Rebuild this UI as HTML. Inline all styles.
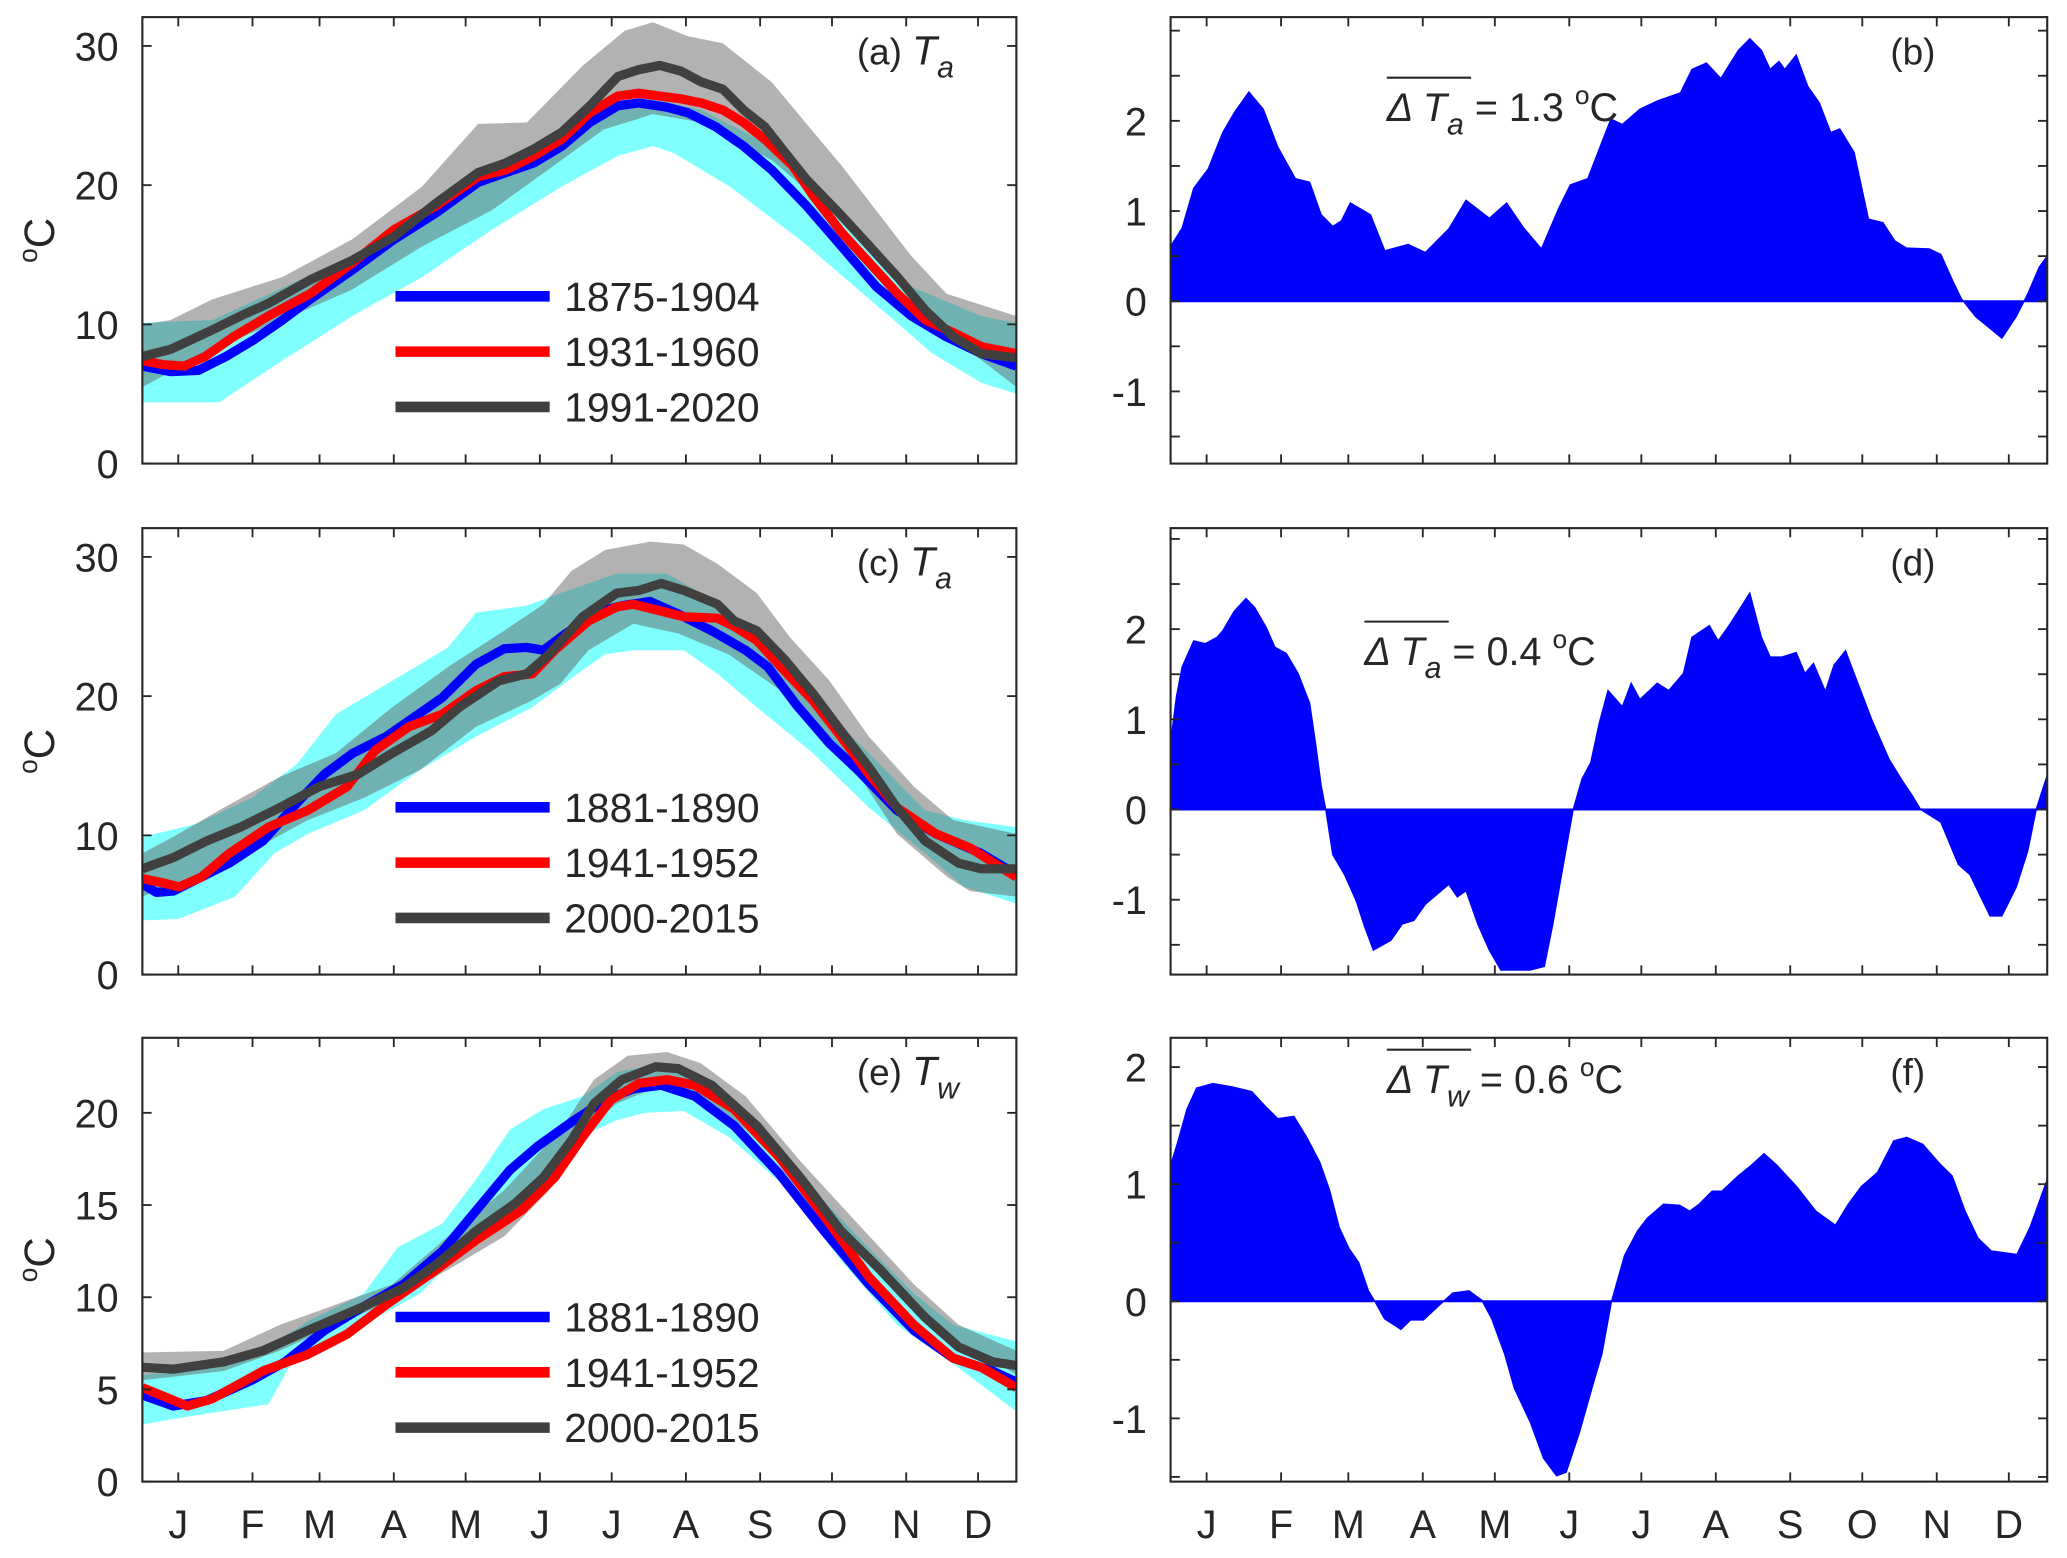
<!DOCTYPE html>
<html><head><meta charset="utf-8"><style>
html,body{margin:0;padding:0;background:#fff;}
svg{display:block;}
text{font-family:"Liberation Sans",Arial,sans-serif;fill:#262626;}
</style></head><body>
<svg id="fig" xmlns="http://www.w3.org/2000/svg" width="2067" height="1558" viewBox="0 0 1568 1183" preserveAspectRatio="none"></svg>
<script>
// ---------- shared categories ----------
const monthLabels=['J','F','M','A','M','J','J','A','S','O','N','D'];
const monthDays=[15,46,74,105,135,166,196,227,258,288,319,349];

// ---------- panel (a) ----------
const aLegend=['1875-1904','1931-1960','1991-2020'];
const aBlueDays=[0,11.7,23.4,35,46.7,58.4,70.1,87.6,105.1,122.6,140.2,151.8,163.5,175.2,186.9,198.6,207.3,219,227.8,239.4,251.1,262.8,277.4,292,306.6,321.2,335.8,350.4,365];
const aBlueVals=[7.0,6.6,6.7,7.7,8.9,10.3,11.8,13.9,16.1,18.0,20.2,20.9,21.6,22.8,24.5,25.7,25.9,25.6,25.2,24.2,22.8,21.1,18.5,15.6,12.7,10.6,9.1,7.9,7.0];
const aRedDays=[0,8.8,17.5,26.3,38,52.6,70.1,87.6,105.1,122.6,140.2,151.8,163.5,175.2,186.9,198.6,207.3,216.1,224.8,233.6,242.4,251.1,259.9,271.6,280.3,292,303.7,315.4,327,338.7,350.4,365];
const aRedVals=[7.4,7.1,7.0,7.7,9.1,10.6,12.2,14.4,16.8,18.5,20.6,21.1,22.1,23.3,25.2,26.4,26.6,26.4,26.2,25.9,25.4,24.5,23.3,21.4,19.2,16.6,14.4,12.2,10.3,9.4,8.4,7.9];
const aGrayDays=[0,11.7,29.2,40.9,52.6,70.1,87.6,105.1,122.6,140.2,151.8,163.5,175.2,186.9,198.6,207.3,216.1,224.8,233.6,242.4,251.1,259.9,268.6,277.4,292,303.7,315.4,327,338.7,350.4,365];
const aGrayVals=[7.7,8.2,9.6,10.6,11.5,13.2,14.6,16.3,18.7,20.9,21.6,22.6,23.8,25.7,27.8,28.3,28.6,28.2,27.4,26.9,25.4,24.2,22.3,20.4,17.8,15.6,13.4,11.0,9.1,7.9,7.6];
const aCyanLoDays=[0,32.1,58.4,87.6,116.8,146,175.2,198.6,213.2,221.9,245.3,274.5,303.7,330,350.4,365];
const aCyanLoVals=[4.4,4.4,7.4,10.6,13.4,16.8,19.9,22.1,22.8,22.3,19.9,16.1,11.8,7.9,5.8,5.0];
const aCyanHiDays=[0,29.2,87.6,146,189.8,213.2,233.6,262.8,292,321.2,350.4,365];
const aCyanHiVals=[10.1,10.3,14.9,20.6,25.4,26.2,25.4,22.8,17.8,12.7,10.6,10.1];
const aGrayHiDays=[0,11.7,29.2,58.4,87.6,116.8,140.2,160.6,184,201.5,213.2,227.8,242.4,262.8,292,321.2,335.8,365];
const aGrayHiVals=[10.0,10.3,11.8,13.4,16.1,19.9,24.4,24.5,28.6,31.1,31.7,30.7,30.2,27.4,21.4,14.9,12.2,10.6];
const aGrayLoDays=[0,29.2,58.4,87.6,116.8,146,169.4,192.7,213.2,233.6,262.8,292,321.2,344.6,365];
const aGrayLoVals=[5.5,8.2,10.3,12.5,15.6,18.2,21.1,24.0,25.1,24.5,21.8,17.5,11.8,8.2,5.5];

// ---------- panel (c) ----------
const cLegend=['1881-1890','1941-1952','2000-2015'];
const cBlueDays=[0,5.9,12.9,22.3,36.3,50.4,64.4,76.1,87.9,101.9,113.6,125.3,139.4,151.1,160.5,167.5,176.9,191,200.3,212,223.8,237.8,251.9,261.2,273,287,298.7,315.1,331.5,350.3,365];
const cBlueVals=[6.5,5.9,6.0,6.8,8.0,9.6,12.3,14.4,15.9,17.1,18.5,19.9,22.3,23.4,23.5,23.3,24.5,26.1,26.5,26.8,25.9,24.7,23.3,22.1,19.4,16.6,14.7,11.8,10.1,8.7,7.2];
const cRedDays=[0,8.2,15.2,24.6,36.3,52.7,69.1,85.5,97.2,111.3,125.3,139.4,151.1,162.8,172.2,186.3,198,205,214.4,226.1,240.2,247.2,256.6,268.3,280,291.7,303.4,315.1,331.5,345.6,365];
const cRedVals=[6.9,6.6,6.3,7.0,8.7,10.6,11.8,13.5,16.1,17.8,18.7,20.4,21.4,21.6,23.3,25.4,26.4,26.6,26.2,25.7,25.6,25.0,24.0,21.8,19.7,17.1,14.4,12.0,10.1,9.1,7.0];
const cGrayDays=[0,12.9,26.9,41,57.4,73.8,90.2,104.3,120.7,132.4,148.8,160.5,169.9,183.9,198,207.4,216.7,226.1,240.2,247.2,256.6,268.3,280,291.7,303.4,315.1,326.9,340.9,350.3,365];
const cGrayVals=[7.6,8.4,9.6,10.6,12.0,13.5,14.4,15.9,17.5,19.2,21.1,21.6,23.0,25.7,27.4,27.6,28.1,27.6,26.6,25.4,24.7,22.6,20.2,17.5,14.9,12.0,9.6,8.0,7.6,7.6];
const cCyanLoDays=[0,15.2,38.7,55.1,69.1,92.5,116,139.4,162.8,181.6,193.3,205,226.1,240.2,256.6,280,303.4,326.9,343.2,365];
const cCyanLoVals=[3.9,4.0,5.6,8.7,10.1,11.8,14.7,17.1,19.2,21.6,23.0,23.3,23.3,21.6,19.2,15.9,12.0,8.7,6.3,5.1];
const cCyanHiDays=[0,22.3,45.7,64.4,80.8,104.3,127.7,139.4,160.5,174.6,198,219.1,233.1,256.6,280,303.4,326.9,343.2,365];
const cCyanHiVals=[9.9,10.8,12.7,15.1,18.7,21.1,23.5,26.0,26.5,27.4,28.8,28.8,27.4,23.8,19.9,15.9,11.8,11.1,10.6];
const cGrayHiDays=[0,12.9,34,57.4,80.8,104.3,127.7,151.1,167.5,179.2,193.3,212,226.1,240.2,256.6,270.6,287,303.4,322.2,338.6,365];
const cGrayHiVals=[8.7,9.9,12.0,14.2,15.9,19.2,22.1,24.7,26.6,29.0,30.5,31.1,30.9,29.5,27.4,24.2,21.1,17.1,13.5,11.1,10.1];
const cGrayLoDays=[0,22.3,45.7,69.1,92.5,116,139.4,162.8,174.6,186.3,205,223.8,244.8,268.3,291.7,315.1,336.2,345.6,365];
const cGrayLoVals=[5.6,7.2,8.9,11.1,12.7,14.7,17.8,19.7,20.9,23.3,25.2,24.5,23.0,20.2,16.3,10.1,7.0,6.0,5.6];

// ---------- panel (e) ----------
const eLegend=['1881-1890','1941-1952','2000-2015'];
const eBlueDays=[0,12.9,26.9,45.7,59.7,76.1,92.5,109,125.3,139.4,153.5,165.2,179.2,193.3,205,216.7,230.8,247.2,265.9,284.7,303.4,322.2,338.6,355,365];
const eBlueVals=[4.7,4.1,4.4,5.5,6.5,8.2,9.5,10.7,12.5,14.7,16.9,18.2,19.5,20.7,21.3,21.5,20.9,19.3,16.7,13.6,10.7,8.2,6.7,6.0,5.4];
const eRedDays=[0,18.7,29.3,50.4,69.1,85.5,101.9,120.7,139.4,158.2,172.2,183.9,195.6,207.4,219.1,230.8,247.2,265.9,284.7,303.4,322.2,338.6,350.3,365];
const eRedVals=[5.1,4.1,4.5,6.0,6.9,8.0,9.6,11.3,13.1,14.7,16.5,18.7,20.7,21.6,21.8,21.5,20.2,17.6,14.4,11.1,8.5,6.7,6.2,5.1];
const eGrayDays=[0,12.9,34,50.4,69.1,92.5,109,123,139.4,155.8,167.5,179.2,188.6,200.3,214.4,223.8,237.8,256.6,275.3,291.7,308.1,326.9,340.9,355,365];
const eGrayVals=[6.2,6.1,6.5,7.1,8.2,9.5,10.5,11.8,13.6,15.1,16.5,18.5,20.5,21.8,22.5,22.4,21.5,19.3,16.4,13.6,11.5,8.9,7.3,6.5,6.3];
const eCyanLoDays=[0,17.6,52.7,62.1,92.5,116,139.4,162.8,186.3,198,209.7,226.1,244.8,268.3,291.7,315.1,338.6,365];
const eCyanLoVals=[3.1,3.5,4.2,6.4,8.5,10.2,13.3,15.8,18.9,19.6,20.0,20.1,18.7,16.0,12.0,8.5,6.4,3.8];
const eCyanHiDays=[0,22.3,45.7,69.1,92.5,106.6,125.3,139.4,153.5,167.5,183.9,198,216.7,230.8,251.9,275.3,298.7,322.2,338.6,365];
const eCyanHiVals=[5.8,6.0,6.7,8.7,10.2,12.7,14.0,16.4,19.1,20.2,20.9,22.2,22.7,22.2,19.6,16.5,13.3,10.2,8.5,7.6];
const eGrayHiDays=[0,34,57.4,80.8,104.3,127.7,151.1,174.6,188.6,202.7,219.1,233.1,251.9,275.3,298.7,322.2,340.9,365];
const eGrayHiVals=[7.0,7.1,8.5,9.6,10.7,13.3,15.8,19.1,21.8,23.1,23.3,22.7,20.9,17.3,14.0,10.7,8.5,7.1];
const eGrayLoDays=[0,34,57.4,80.8,104.3,127.7,151.1,169.9,183.9,198,216.7,233.1,251.9,275.3,298.7,322.2,340.9,365];
const eGrayLoVals=[5.5,6.0,7.1,8.5,9.8,11.5,13.3,15.8,18.9,20.5,21.5,20.9,19.1,16.0,12.7,9.5,7.6,5.8];

// ---------- difference panels ----------
const bDays=[0,4.8,9.6,15.7,21.7,26.5,32.6,38.6,44.6,51.9,57.9,62.7,67.5,71.1,74.8,83.2,89.2,98.9,106.1,115.8,123,132.7,139.9,147.1,154.4,161.6,166.4,173.7,178.5,183.3,188.1,195.4,202.6,212.3,217.1,223.1,229.1,236.4,241.2,246,249.6,253.3,255.7,260.5,265.3,270.1,274.9,278.6,284.6,290.6,296.6,301.5,306.3,315.9,320.7,325.6,329.2,335.2,341.2,346.1,352.1,356.9,361.7,365];
const bVals=[0.61,0.81,1.25,1.47,1.87,2.09,2.32,2.13,1.71,1.36,1.32,0.96,0.83,0.89,1.09,0.96,0.56,0.63,0.54,0.80,1.12,0.92,1.09,0.81,0.58,1.03,1.29,1.36,1.69,2.02,1.96,2.13,2.22,2.31,2.57,2.64,2.47,2.78,2.91,2.78,2.57,2.66,2.57,2.73,2.38,2.20,1.87,1.91,1.65,0.91,0.87,0.67,0.59,0.58,0.52,0.23,0.03,-0.17,-0.30,-0.41,-0.17,0.08,0.38,0.50];
const dDays=[0,2.4,4.8,9.6,14.5,19.3,21.7,26.5,31.4,35,39.8,43.4,48.2,53.1,57.9,60.3,62.7,64.6,67.5,72.4,77.2,80.8,84.4,91.7,96.5,101.3,106.1,111,115.8,119.4,123,127.9,132.7,137.5,142.3,149.6,155.6,159.2,164,167.6,171.3,174.9,178.5,182.1,188.1,191.8,195.4,202.6,207.4,213.5,217.1,224.3,228,232.8,236.4,241.2,246,249.6,254.5,260.5,264.1,267.7,272.6,276.2,281,284.6,291.9,299.1,305.1,308.7,312.3,320.7,328,332.8,341.2,346.1,352.1,356.9,360.5,365];
const dVals=[0.74,1.25,1.58,1.87,1.84,1.91,1.98,2.20,2.34,2.24,2.02,1.80,1.73,1.51,1.18,0.74,0.27,0,-0.50,-0.72,-1.01,-1.30,-1.56,-1.45,-1.27,-1.23,-1.05,-0.94,-0.83,-0.97,-0.90,-1.27,-1.56,-1.78,-1.78,-1.78,-1.74,-1.27,-0.54,0,0.34,0.52,0.96,1.32,1.14,1.40,1.22,1.40,1.32,1.51,1.91,2.04,1.87,2.05,2.20,2.40,1.91,1.69,1.69,1.74,1.51,1.62,1.31,1.60,1.76,1.51,1.00,0.56,0.30,0.16,0,-0.14,-0.61,-0.72,-1.18,-1.18,-0.86,-0.46,0.01,0.38];
const fDays=[0,2.7,6.8,10.8,17.6,25.7,33.8,39.2,44.6,51.3,56.7,62.1,66.2,70.2,74.3,78.3,82.4,85,89.1,95.9,99.9,105.3,112.1,117.5,124.2,129.6,133.7,139.1,143.1,149.9,155.3,160.7,164.7,170.1,175.5,179.6,183.6,189,194.4,198.5,205.2,212,216.1,220.1,225.5,229.5,236.3,241.7,247.1,252.5,260.6,268.7,276.8,282.2,287.6,294.3,301.1,306.5,313.2,320,325.4,330.8,336.2,341.6,352.4,357.8,365];
const fVals=[1.16,1.34,1.64,1.82,1.86,1.83,1.79,1.67,1.56,1.58,1.40,1.19,0.95,0.63,0.45,0.33,0.09,0,-0.15,-0.24,-0.16,-0.16,-0.03,0.07,0.09,0.01,-0.15,-0.45,-0.74,-1.04,-1.34,-1.49,-1.46,-1.13,-0.74,-0.45,0,0.39,0.60,0.71,0.83,0.82,0.77,0.83,0.94,0.94,1.07,1.16,1.26,1.16,0.98,0.77,0.65,0.83,0.98,1.10,1.37,1.40,1.34,1.18,1.07,0.77,0.54,0.43,0.40,0.63,1.04];

const NS='http://www.w3.org/2000/svg';
const svg=document.getElementById('fig');
function el(tag,attrs,parent){const e=document.createElementNS(NS,tag);for(const k in attrs)e.setAttribute(k,attrs[k]);(parent||svg).appendChild(e);return e;}

function axes(x0,x1,y0,y1,ymin,ymax){
  return {x0,x1,y0,y1,
    x:d=>x0+d*(x1-x0)/365,
    y:v=>y1-(v-ymin)*(y1-y0)/(ymax-ymin)};
}
let clipN=0;
function clipFor(ax){
  const id='clip'+(clipN++);
  const cp=el('clipPath',{id:id});
  el('rect',{x:ax.x0,y:ax.y0,width:ax.x1-ax.x0,height:ax.y1-ax.y0},cp);
  return 'url(#'+id+')';
}
function frame(ax,name,yticks,ylabels,minor,showMonths){
  const g=el('g',{});
  
  
  monthDays.forEach((d,i)=>{
    const x=ax.x(d);
    const t1=el('line',{x1:x,x2:x,y1:ax.y1,y2:ax.y1-7,stroke:'#262626','stroke-width':1.4},g);
    
    
    el('line',{x1:x,x2:x,y1:ax.y0,y2:ax.y0+7,stroke:'#262626','stroke-width':1.4},g);
    if(showMonths){
      const t=el('text',{x:x,y:ax.y1+43,'text-anchor':'middle','font-size':30},g);
      t.textContent=monthLabels[i];
      
      
    }
  });
  yticks.forEach(v=>{
    const y=ax.y(v);
    el('line',{x1:ax.x0,x2:ax.x0+7,y1:y,y2:y,stroke:'#262626','stroke-width':1.4},g);
    el('line',{x1:ax.x1,x2:ax.x1-7,y1:y,y2:y,stroke:'#262626','stroke-width':1.4},g);
  });
  ylabels.forEach(v=>{
    const t=el('text',{x:ax.x0-18,y:ax.y(v)+11,'text-anchor':'end','font-size':30},g);
    t.textContent=String(v);
    
    
  });
  const r=el('rect',{x:ax.x0,y:ax.y0,width:ax.x1-ax.x0,height:ax.y1-ax.y0,fill:'none',stroke:'#262626','stroke-width':1.6},g);
  
  
}
function path(ax,days,vals){
  const n=Math.min(days.length,vals.length);let s='';
  for(let i=0;i<n;i++)s+=(i?'L':'M')+ax.x(days[i]).toFixed(1)+','+ax.y(vals[i]).toFixed(1);
  return s;
}
function band(ax,hiD,hiV,loD,loV,fill,op,name,clip){
  let s=path(ax,hiD,hiV);
  const n=Math.min(loD.length,loV.length);
  for(let i=n-1;i>=0;i--)s+='L'+ax.x(loD[i]).toFixed(1)+','+ax.y(loV[i]).toFixed(1);
  const p=el('path',{d:s+'Z',fill:fill,'fill-opacity':op,'clip-path':clip});
  
  
}
function line(ax,days,vals,color,name,clip){
  const p=el('path',{d:path(ax,days,vals),fill:'none',stroke:color,'stroke-width':7,'stroke-linejoin':'round','stroke-linecap':'butt','clip-path':clip});
  
  
}
function ylabel(ax){
  const cy=(ax.y0+ax.y1)/2;
  const t=el('text',{x:0,y:0,'font-size':32,'text-anchor':'middle',transform:'translate(41,'+cy+') rotate(-90)'});
  t.innerHTML='<tspan font-size="20" dy="-13">o</tspan><tspan dy="13">C</tspan>';
  
  
}
function legend(ax,labels,baseY){
  const cols=['#0000ff','#ff0000','#404040'];
  labels.forEach((lb,i)=>{
    const y=baseY+i*42;
    const l=el('line',{x1:300,x2:417,y1:y,y2:y,stroke:cols[i],'stroke-width':8});
    
    
    const t=el('text',{x:428,y:y+11,'font-size':31});
    t.textContent=lb;
    
    
  });
}
function panelTitle(x,y,letter,sub,name){
  const t=el('text',{x:x,y:y,'font-size':28});
  t.innerHTML='('+letter+')'+(sub?' <tspan font-style="italic" font-size="31">T</tspan><tspan font-style="italic" font-size="23" dy="10">'+sub+'</tspan>':'');
  
  
}
function leftPanel(y0,y1,ymax,yticks,data,labels,letter,sub){
  const ax=axes(108,771,y0,y1,0,ymax);
  const cp=clipFor(ax);
  band(ax,data.ch[0],data.ch[1],data.cl[0],data.cl[1],'#80ffff',1,'cyan-spread-band',cp);
  band(ax,data.gh[0],data.gh[1],data.gl[0],data.gl[1],'#5e5e5e',0.48,'gray-spread-band',cp);
  line(ax,data.b[0],data.b[1],'#0000ff','blue-series-line',cp);
  line(ax,data.r[0],data.r[1],'#ff0000','red-series-line',cp);
  line(ax,data.g[0],data.g[1],'#404040','gray-series-line',cp);
  frame(ax,'panel-'+letter,yticks,yticks,null,y1>1000);
  ylabel(ax);
  legend(ax,labels,y0+212);
  panelTitle(650,y0+36,letter,sub,'panel-'+letter+'-title');
}
function rightPanel(y0,y1,ymin,ymax,yticks,ylabels,days,vals,letter,sub,meanTxt,annX,annY){
  const ax=axes(888,1553,y0,y1,ymin,ymax);
  const cp=clipFor(ax);
  const n=Math.min(days.length,vals.length);
  let s='M'+ax.x(days[0]).toFixed(1)+','+ax.y(0).toFixed(1);
  for(let i=0;i<n;i++)s+='L'+ax.x(days[i]).toFixed(1)+','+ax.y(vals[i]).toFixed(1);
  s+='L'+ax.x(days[n-1]).toFixed(1)+','+ax.y(0).toFixed(1)+'Z';
  const p=el('path',{d:s,fill:'#0000ff',stroke:'#0000ff','stroke-width':1,'clip-path':cp});
  
  
  const z=el('line',{x1:ax.x0,x2:ax.x1,y1:ax.y(0),y2:ax.y(0),stroke:'#0000ff','stroke-width':1.5});
  
  
  frame(ax,'panel-'+letter,yticks,ylabels,null,y1>1000);
  panelTitle(1434,y0+36,letter,null,'panel-'+letter+'-title');
  const g=el('g',{});
  
  
  el('line',{x1:annX,x2:annX+64,y1:annY-33,y2:annY-33,stroke:'#262626','stroke-width':1.6},g);
  const t=el('text',{x:annX,y:annY,'font-size':30},g);
  t.innerHTML='<tspan font-style="italic">Δ T</tspan><tspan font-style="italic" font-size="23" dy="10">'+sub+'</tspan><tspan dy="-10"> = '+meanTxt+' </tspan><tspan font-size="20" dy="-13">o</tspan><tspan dy="13">C</tspan>';
}

leftPanel(13,352,32.07,[0,10,20,30],{b:[aBlueDays,aBlueVals],r:[aRedDays,aRedVals],g:[aGrayDays,aGrayVals],ch:[aCyanHiDays,aCyanHiVals],cl:[aCyanLoDays,aCyanLoVals],gh:[aGrayHiDays,aGrayHiVals],gl:[aGrayLoDays,aGrayLoVals]},aLegend,'a','a');
leftPanel(401,740,32.07,[0,10,20,30],{b:[cBlueDays,cBlueVals],r:[cRedDays,cRedVals],g:[cGrayDays,cGrayVals],ch:[cCyanHiDays,cCyanHiVals],cl:[cCyanLoDays,cCyanLoVals],gh:[cGrayHiDays,cGrayHiVals],gl:[cGrayLoDays,cGrayLoVals]},cLegend,'c','a');
leftPanel(788,1125,24.07,[0,5,10,15,20],{b:[eBlueDays,eBlueVals],r:[eRedDays,eRedVals],g:[eGrayDays,eGrayVals],ch:[eCyanHiDays,eCyanHiVals],cl:[eCyanLoDays,eCyanLoVals],gh:[eGrayHiDays,eGrayHiVals],gl:[eGrayLoDays,eGrayLoVals]},eLegend,'e','w');

rightPanel(13,352,-1.80,3.15,[-1.5,-1,-0.5,0,0.5,1,1.5,2,2.5,3],[-1,0,1,2],bDays,bVals,'b','a','1.3',1052,92);
rightPanel(401,740,-1.83,3.12,[-1.5,-1,-0.5,0,0.5,1,1.5,2,2.5,3],[-1,0,1,2],dDays,dVals,'d','a','0.4',1035,505);
rightPanel(788,1125,-1.54,2.25,[-1.5,-1,-0.5,0,0.5,1,1.5,2],[-1,0,1,2],fDays,fVals,'f','w','0.6',1052,830);
</script>
</body></html>
